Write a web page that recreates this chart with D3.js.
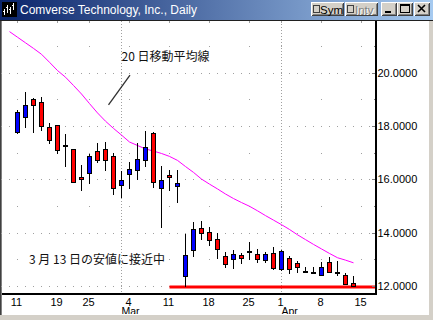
<!DOCTYPE html>
<html>
<head>
<meta charset="utf-8">
<script src="https://cdn.jsdelivr.net/npm/d3@7"></script>
<style>
  html, body { margin: 0; padding: 0; background: #d4d0c8; }
  svg { display: block; }
</style>
</head>
<body>
<svg width="433" height="320"></svg>
<script>
// trading-day slots: 2/8 only carries the moving average, 4/15 is an empty slot
const slots = ["2/8","2/11","2/12","2/13","2/14","2/15","2/19","2/20","2/21","2/22",
  "2/25","2/26","2/27","2/28","3/1","3/4","3/5","3/6","3/7","3/8",
  "3/11","3/12","3/13","3/14","3/15","3/18","3/19","3/20","3/21","3/22",
  "3/25","3/26","3/27","3/28","4/1","4/2","4/3","4/4","4/5","4/8",
  "4/9","4/10","4/11","4/12","4/15"];

const candleDays = slots.slice(1, 44);
const open  = [17.75,18.29,19.01,18.89,17.95,18.02,17.27,17.13,16.08,16.21,17.05,17.13,16.86,15.76,16.15,16.30,16.70,17.72,15.63,
               16.15,15.70,12.35,13.32,14.16,14.01,13.75,13.11,12.96,13.15,13.31,13.19,12.93,13.23,12.61,13.04,12.87,12.56,12.53,12.36,12.91,12.53,12.40,12.10];
const high  = [18.60,19.29,19.04,19.07,18.11,18.05,17.70,17.15,16.54,16.95,17.35,17.39,16.98,16.31,16.65,17.35,17.81,17.76,16.50,
               16.35,16.35,13.95,14.40,14.44,14.21,13.99,13.26,13.34,13.23,13.66,13.38,13.29,13.47,13.35,13.12,12.95,12.72,12.70,12.91,13.08,12.94,12.49,12.36];
const low   = [17.70,17.91,17.75,17.82,17.34,16.96,16.47,15.85,15.57,15.82,16.62,16.32,15.40,15.31,15.63,15.97,16.47,15.69,14.16,
               15.57,15.10,11.96,13.10,13.74,13.51,13.00,12.69,12.65,12.81,12.97,12.85,12.87,12.59,12.56,12.46,12.48,12.50,12.48,12.36,12.48,12.37,12.03,11.95];
const close = [18.51,18.78,18.74,17.95,17.42,17.05,17.25,15.87,15.99,16.87,16.68,16.68,15.63,15.96,16.38,16.75,17.22,15.86,15.96,
               16.04,15.85,13.15,14.13,13.94,13.68,13.34,12.78,13.19,13.00,13.23,12.96,13.20,12.63,13.31,12.61,12.66,12.54,12.52,12.70,12.49,12.52,12.05,11.95];

// 20-day moving average
const maDays = slots.slice(0, 44);
const ma20 = [21.54,21.33,21.12,20.91,20.69,20.39,20.08,19.83,19.52,19.20,18.84,18.49,18.18,17.91,17.66,17.40,17.27,17.14,17.06,16.97,
              16.86,16.71,16.48,16.26,16.01,15.82,15.64,15.45,15.28,15.13,14.99,14.82,14.64,14.47,14.30,14.12,13.92,13.74,13.56,13.39,
              13.22,13.06,12.97,12.87];

const weekTicks  = ["2/11","2/19","2/25","3/4","3/11","3/18","3/25","4/1","4/8","4/15"];
const weekLabels = ["11","19","25","4","11","18","25","1","8","15"];
const monthStarts = ["3/1","4/1"];
const monthLabels = ["Mar","Apr"];
const yTicks = [12,14,16,18,20];
const yRows = [12,13,14,15,16,17,18,19,20,21];

const supportLevel = 11.96;   // 3/13 low
const supportFrom = "3/11";

const svg = d3.select("svg");
const latin = "'Liberation Sans', Arial, sans-serif";
const jp = "'Noto Sans CJK JP', sans-serif";

const plot = { left: 2, right: 376, top: 21, bottom: 294 };

const x = d3.scalePoint().domain(slots).range([9.5, 361.5]);
const y = d3.scaleLinear().domain([12, 20]).range([286, 72.67]);
const step = x.step();

// ---- window frame ----
svg.append("rect").attr("width", 433).attr("height", 320).attr("fill", "#d4d0c8");
svg.append("rect").attr("x", 2).attr("y", 21).attr("width", 426).attr("height", 293).attr("fill", "#fff");
svg.append("line").attr("x1", 0.5).attr("x2", 0.5).attr("y1", 20).attr("y2", 315).attr("stroke", "#404040");
svg.append("line").attr("x1", 1.5).attr("x2", 1.5).attr("y1", 20).attr("y2", 315).attr("stroke", "#808080");
svg.append("line").attr("x1", 0).attr("x2", 433).attr("y1", 20.5).attr("y2", 20.5).attr("stroke", "#202020");
svg.append("line").attr("x1", 428.5).attr("x2", 428.5).attr("y1", 21).attr("y2", 315).attr("stroke", "#fff");

// ---- title bar ----
const grad = svg.append("defs").append("linearGradient").attr("id", "tb");
grad.append("stop").attr("offset", "0%").attr("stop-color", "#0a246a");
grad.append("stop").attr("offset", "100%").attr("stop-color", "#a6caf0");
svg.append("rect").attr("width", 433).attr("height", 20).attr("fill", "url(#tb)");

// little chart icon
const icon = svg.append("g").attr("shape-rendering", "crispEdges");
icon.append("rect").attr("x", 2).attr("y", 2).attr("width", 15).attr("height", 15).attr("fill", "#000");
[[4, 9, 15], [7, 5, 13], [10, 7, 14], [13, 3, 10]].forEach(([ix, a, b]) => {
  icon.append("line").attr("x1", ix + 0.5).attr("x2", ix + 0.5).attr("y1", a).attr("y2", b).attr("stroke", "#fff");
  icon.append("line").attr("x1", ix - 1).attr("x2", ix + 0.5).attr("y1", a + 2.5).attr("y2", a + 2.5).attr("stroke", "#fff");
});

svg.append("text").attr("x", 20).attr("y", 13.5)
  .attr("font-family", latin).attr("font-size", 12).attr("fill", "#fff")
  .text("Comverse Technology, Inc., Daily");

function button(bx, bw) {
  const g = svg.append("g").attr("shape-rendering", "crispEdges");
  g.append("rect").attr("x", bx).attr("y", 2).attr("width", bw).attr("height", 14).attr("fill", "#d4d0c8");
  g.append("path").attr("d", `M${bx + 0.5},${15.5}V${2.5}H${bx + bw - 0.5}`).attr("fill", "none").attr("stroke", "#fff");
  g.append("path").attr("d", `M${bx + 0.5},${15.5}H${bx + bw - 0.5}V${2.5}`).attr("fill", "none").attr("stroke", "#404040");
  g.append("path").attr("d", `M${bx + 1.5},${14.5}H${bx + bw - 1.5}V${3.5}`).attr("fill", "none").attr("stroke", "#808080");
  return g;
}
const sym = button(311, 33);
sym.append("rect").attr("x", 313.5).attr("y", 5.5).attr("width", 6).attr("height", 7).attr("fill", "#d4d0c8").attr("stroke", "#404040");
sym.append("text").attr("x", 320).attr("y", 14).attr("font-family", latin).attr("font-size", 11.5).attr("fill", "#000").text("Sym");
const intv = button(345, 33);
intv.append("rect").attr("x", 347.5).attr("y", 5.5).attr("width", 6).attr("height", 7).attr("fill", "#d4d0c8").attr("stroke", "#404040");
intv.append("text").attr("x", 356).attr("y", 15).attr("font-family", latin).attr("font-size", 11.5).attr("fill", "#fff").text("Intv");
intv.append("text").attr("x", 355).attr("y", 14).attr("font-family", latin).attr("font-size", 11.5).attr("fill", "#808080").text("Intv");
const bMin = button(381, 16);
bMin.append("rect").attr("x", 385).attr("y", 11).attr("width", 6).attr("height", 2).attr("fill", "#000");
const bMax = button(397, 16);
bMax.append("rect").attr("x", 400.5).attr("y", 4.5).attr("width", 9).attr("height", 8).attr("fill", "none").attr("stroke", "#000");
bMax.append("line").attr("x1", 400).attr("x2", 410).attr("y1", 5.5).attr("y2", 5.5).attr("stroke", "#000");
const bClose = button(414, 16);
bClose.append("path").attr("d", "M418,5L425,12M425,5L418,12").attr("stroke", "#000").attr("stroke-width", 1.6)
  .attr("shape-rendering", "auto");

// ---- grid ----
const grid = svg.append("g").attr("fill", "#a0a0a0").attr("shape-rendering", "crispEdges");
const fullCols = d3.range(x(slots[0]) - step, x(slots[slots.length - 1]) + step + 1, step);
yRows.forEach(v => {
  const cols = v % 2 === 0 ? fullCols : weekTicks.map(d => x(d));
  cols.forEach(cx => {
    grid.append("rect").attr("x", Math.floor(cx)).attr("y", Math.round(y(v))).attr("width", 1).attr("height", 1);
  });
});
weekTicks.forEach(d => {
  grid.append("rect").attr("x", Math.floor(x(d))).attr("y", plot.top).attr("width", 1).attr("height", 2);
});
svg.append("g").selectAll("line").data(monthStarts).join("line")
  .attr("x1", d => x(d)).attr("x2", d => x(d))
  .attr("y1", plot.top).attr("y2", plot.bottom)
  .attr("stroke", "#a0a0a0").attr("stroke-dasharray", "1,2");

// ---- 20-day MA ----
const maLine = d3.line().x((d, i) => x(maDays[i])).y(d => y(d));
svg.append("path").datum(ma20).attr("d", maLine)
  .attr("fill", "none").attr("stroke", "#ff00ff").attr("stroke-width", 1);

// ---- support line at the 3/13 low ----
svg.append("line")
  .attr("x1", x(supportFrom)).attr("x2", plot.right)
  .attr("y1", y(supportLevel)).attr("y2", y(supportLevel))
  .attr("stroke", "#ff0000").attr("stroke-width", 3);

// ---- candles ----
const candles = candleDays.map((d, i) => ({ d, o: open[i], h: high[i], l: low[i], c: close[i] }));
const cg = svg.append("g").attr("shape-rendering", "crispEdges");
cg.selectAll("line").data(candles).join("line")
  .attr("x1", d => x(d.d)).attr("x2", d => x(d.d))
  .attr("y1", d => Math.round(y(d.h))).attr("y2", d => Math.round(y(d.l)))
  .attr("stroke", "#000");
cg.selectAll("rect").data(candles).join("rect")
  .attr("x", d => x(d.d) - 2)
  .attr("y", d => Math.round(y(Math.max(d.o, d.c))) + 0.5)
  .attr("width", 4)
  .attr("height", d => Math.max(1, Math.round(y(Math.min(d.o, d.c))) - Math.round(y(Math.max(d.o, d.c))) - 1))
  .attr("fill", d => d.c > d.o ? "#0000ff" : "#ff0000")
  .attr("stroke", "#000");

// ---- axes ----
svg.append("line").attr("x1", plot.left).attr("x2", plot.right + 1).attr("y1", plot.bottom).attr("y2", plot.bottom)
  .attr("stroke", "#000").attr("stroke-width", 2);
svg.append("line").attr("x1", plot.right).attr("x2", plot.right).attr("y1", plot.top).attr("y2", plot.bottom)
  .attr("stroke", "#000").attr("stroke-width", 2);

const yAxis = svg.append("g").attr("shape-rendering", "crispEdges");
yRows.forEach(v => {
  const w = yTicks.includes(v) ? 3 : 1;
  yAxis.append("rect").attr("x", plot.right - 1 - w).attr("y", Math.round(y(v))).attr("width", w).attr("height", 1).attr("fill", "#808080");
});
svg.append("g").selectAll("text").data(yTicks).join("text")
  .attr("x", plot.right + 1.5).attr("y", d => y(d) + 4)
  .attr("font-family", latin).attr("font-size", 11).attr("fill", "#000")
  .text(d => d.toFixed(4));

svg.append("g").selectAll("text").data(weekTicks).join("text")
  .attr("x", d => x(d) - 1).attr("y", 305.5)
  .attr("text-anchor", "middle")
  .attr("font-family", latin).attr("font-size", 11).attr("fill", "#000")
  .text((d, i) => weekLabels[i]);
svg.append("g").selectAll("text").data(monthStarts).join("text")
  .attr("x", d => x(d)).attr("y", 315)
  .attr("font-family", latin).attr("font-size", 10.5).attr("fill", "#000")
  .text((d, i) => monthLabels[i]);

// bottom frame drawn last so it trims the month labels like the original window
svg.append("rect").attr("x", 0).attr("y", 315).attr("width", 433).attr("height", 5).attr("fill", "#d4d0c8");
svg.append("line").attr("x1", 2).attr("x2", 429).attr("y1", 314.5).attr("y2", 314.5).attr("stroke", "#fff");

// ---- annotations ----
svg.append("line")
  .attr("x1", x("2/27") + 3).attr("y1", y(18.79))
  .attr("x2", x("3/4") + 0.5).attr("y2", y(19.91))
  .attr("stroke", "#303030").attr("stroke-width", 1.3);
svg.append("text").attr("x", x("3/1")).attr("y", y(20.44))
  .attr("font-family", jp).attr("font-size", 12).attr("fill", "#111")
  .text("20 日移動平均線");
svg.append("text").attr("x", x("2/13") - 4.5).attr("y", y(12.82))
  .attr("font-family", jp).attr("font-size", 12).attr("fill", "#111")
  .text("3 月 13 日の安値に接近中");
</script>
</body>
</html>
